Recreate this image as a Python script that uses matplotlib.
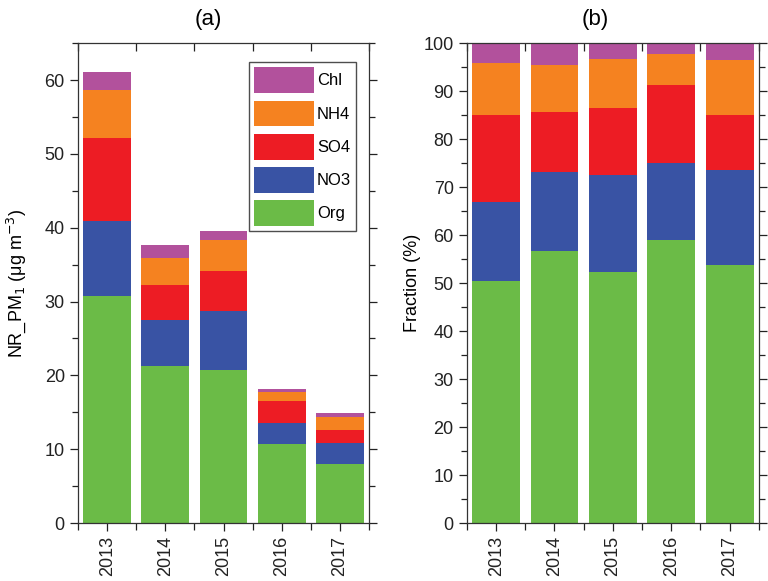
import numpy as np
from matplotlib import pyplot as plt
from matplotlib.ticker import MultipleLocator

plt.rcParams['font.family'] = ['Liberation Sans', 'DejaVu Sans']

# stacked components, bottom to top
years = ['2013', '2014', '2015', '2016', '2017']
species = ['Org', 'NO3', 'SO4', 'NH4', 'Chl']
colors = ['#6bbb47', '#3953a4', '#ed1c24', '#f58220', '#b2519c']

# panel (a): mass of each species (ug m-3)
org_a = [30.8, 21.3, 20.7, 10.7, 8.0]
no3_a = [10.1, 6.2, 8.0, 2.9, 2.9]
so4_a = [11.2, 4.7, 5.5, 2.9, 1.7]
nh4_a = [6.5, 3.7, 4.1, 1.3, 1.8]
chl_a = [2.5, 1.7, 1.2, 0.4, 0.5]

# panel (b): fractions (%)
org_b = [50.5, 56.7, 52.4, 59.0, 53.7]
no3_b = [16.3, 16.4, 20.2, 16.1, 19.9]
so4_b = [18.3, 12.6, 13.8, 16.2, 11.4]
nh4_b = [10.7, 9.8, 10.3, 6.5, 11.5]
chl_b = [4.2, 4.5, 3.3, 2.2, 3.5]

fig = plt.figure(figsize=(7.68, 5.81), dpi=100)
ax1 = fig.add_axes([0.1016, 0.0998, 0.379, 0.826])
ax2 = fig.add_axes([0.608, 0.0998, 0.380, 0.826])

x = np.arange(len(years))
width = 0.82


def draw(ax, series, ylim, major, minor):
    bottom = np.zeros(len(years))
    handles = []
    for vals, c, name in zip(series, colors, species):
        h = ax.bar(x, vals, width, bottom=bottom, color=c, label=name, linewidth=0)
        handles.append(h)
        bottom += np.array(vals)
    ax.set_xlim(-0.5, len(years) - 0.5)
    ax.set_ylim(*ylim)
    ax.yaxis.set_major_locator(MultipleLocator(major))
    ax.yaxis.set_minor_locator(MultipleLocator(minor))
    ax.set_xticks(x)
    ax.set_xticklabels(years, rotation=90)
    ax.set_xticks(np.arange(-0.5, len(years), 1.0), minor=True)
    ax.tick_params(axis='y', which='both', direction='out', left=True, right=True,
                   labelsize=13, colors='#222222')
    ax.tick_params(axis='y', which='major', length=6, width=0.9)
    ax.tick_params(axis='y', which='minor', length=4, width=0.9)
    ax.tick_params(axis='x', which='both', direction='out', bottom=True, top=False,
                   labelsize=13, colors='#222222', width=0.9)
    ax.tick_params(axis='x', which='major', length=6)
    ax.tick_params(axis='x', which='minor', length=5)
    top = ax.secondary_xaxis('top')
    top.set_xticks(np.arange(-0.5, len(years), 1.0))
    top.tick_params(direction='in', length=6, width=0.9, labeltop=False, color='#222222')
    top.spines['top'].set_visible(False)
    for s in ax.spines.values():
        s.set_color('#333333')
        s.set_linewidth(0.9)
    return handles


h = draw(ax1, [org_a, no3_a, so4_a, nh4_a, chl_a], (0, 65), 10, 5)
draw(ax2, [org_b, no3_b, so4_b, nh4_b, chl_b], (0, 100), 10, 5)

ax1.set_title('(a)', fontsize=16, pad=13, x=0.447)
ax2.set_title('(b)', fontsize=16, pad=13, x=0.44)
ax1.set_ylabel('NR_PM$_1$ (μg m$^{-3}$)', fontsize=13, labelpad=12)
ax2.set_ylabel('Fraction (%)', fontsize=13, labelpad=2)

leg = ax1.legend(h[::-1], species[::-1], loc='upper right', bbox_to_anchor=(0.955, 0.96),
                 fontsize=12, frameon=True, fancybox=False, edgecolor='#222222',
                 handlelength=3.6, handleheight=2.0, labelspacing=0.45,
                 handletextpad=0.2, borderpad=0.3, borderaxespad=0)
leg.get_frame().set_linewidth(1.0)

plt.savefig('out.png', dpi=100)
